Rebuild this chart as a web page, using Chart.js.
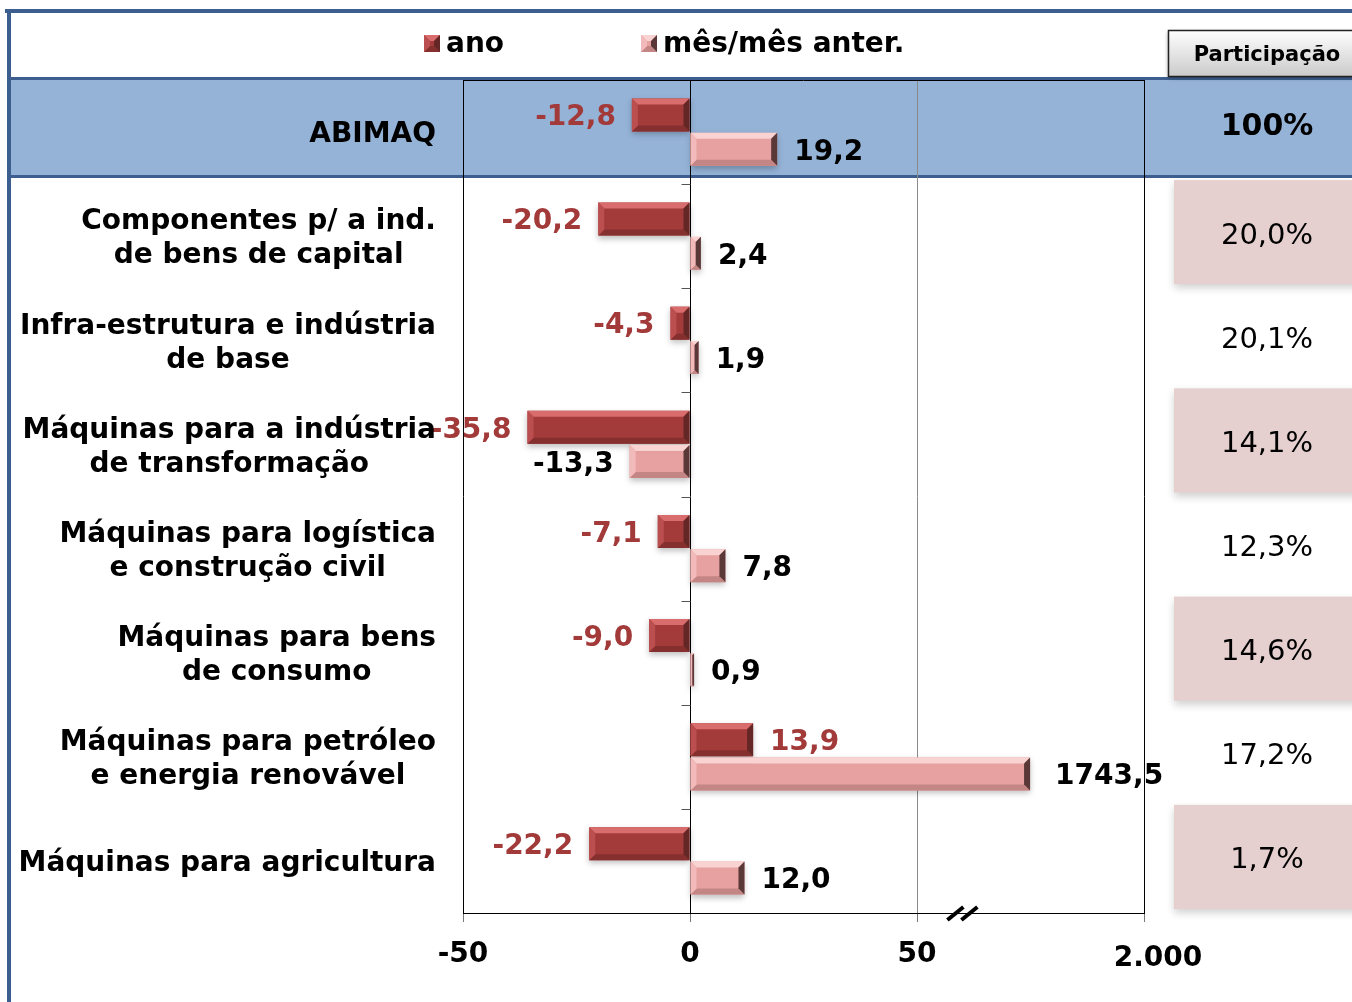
<!DOCTYPE html>
<html>
<head>
<meta charset="utf-8">
<script src="https://cdn.jsdelivr.net/npm/chart.js@4"></script>
<style>
  body { margin: 0; background: #fff; }
  #wrap { width: 1352px; height: 1002px; }
</style>
</head>
<body>
<div id="wrap"><canvas id="machines" width="1352" height="1002"></canvas></div>
<script>
// data
const categories = [
  'ABIMAQ',
  ['Componentes p/ a ind.', 'de bens de capital'],
  ['Infra-estrutura e indústria', 'de base'],
  ['Máquinas para a indústria', 'de transformação'],
  ['Máquinas para logística', 'e construção civil'],
  ['Máquinas para bens', 'de consumo'],
  ['Máquinas para petróleo', 'e energia renovável'],
  'Máquinas para agricultura'
];
const anoValues = [-12.8, -20.2, -4.3, -35.8, -7.1, -9.0, 13.9, -22.2];
const mesValues = [19.2, 2.4, 1.9, -13.3, 7.8, 0.9, 1743.5, 12.0];
const shares = ['100%', '20,0%', '20,1%', '14,1%', '12,3%', '14,6%', '17,2%', '1,7%'];
const xTicks = [-50, 0, 50, 100];
const xTickLabels = ['-50', '0', '50', '2.000'];

// broken axis: above 50 the scale is squeezed
const axisBreak = 50;
const breakRatio = 68;
function toAxis(v) {
  return v > axisBreak ? axisBreak + (v - axisBreak) / breakRatio : v;
}
function fmt(v) {
  return v.toFixed(1).replace('.', ',');
}

const FONT = 'DejaVu Sans';
const anoColors = { base: '#a33b3b', top: '#d96c6c', left: '#bb4f4f', bottom: '#862f2f', right: '#652626' };
const mesColors = { base: '#e8a1a1', top: '#f9d2d2', left: '#f2baba', bottom: '#c48585', right: '#5a3838' };

function poly(ctx, color, pts) {
  ctx.fillStyle = color;
  ctx.beginPath();
  ctx.moveTo(pts[0][0], pts[0][1]);
  for (let i = 1; i < pts.length; i++) ctx.lineTo(pts[i][0], pts[i][1]);
  ctx.closePath();
  ctx.fill();
}
function bevel(ctx, l, t, r, b, c) {
  const s = Math.min(6, (r - l) / 2, (b - t) / 2);
  poly(ctx, c.top, [[l, t], [r, t], [r - s, t + s], [l + s, t + s]]);
  poly(ctx, c.bottom, [[l, b], [r, b], [r - s, b - s], [l + s, b - s]]);
  poly(ctx, c.left, [[l, t], [l + s, t + s], [l + s, b - s], [l, b]]);
  poly(ctx, c.right, [[r, t], [r - s, t + s], [r - s, b - s], [r, b]]);
}

const decor = {
  id: 'decor',
  beforeDraw(chart) {
    const ctx = chart.ctx;
    const y = chart.scales.y;
    const rowH = y.getPixelForValue(1) - y.getPixelForValue(0);
    ctx.save();
    ctx.fillStyle = '#fff';
    ctx.fillRect(0, 0, chart.width, chart.height);
    // outer frame
    ctx.fillStyle = '#3d5f8f';
    ctx.fillRect(5, 9, chart.width - 5, 4);
    ctx.fillRect(7, 9, 4, chart.height - 9);
    // ABIMAQ band
    ctx.fillStyle = '#95b3d7';
    ctx.fillRect(11, 78, chart.width - 11, 98);
    ctx.fillStyle = '#3d5f8f';
    ctx.fillRect(11, 77, chart.width - 11, 3);
    ctx.fillRect(11, 175, chart.width - 11, 3);
    // participação boxes
    ctx.shadowColor = 'rgba(0,0,0,0.18)';
    ctx.shadowBlur = 8;
    ctx.shadowOffsetY = 4;
    ctx.fillStyle = '#e6cfcf';
    [1, 3, 5, 7].forEach(i => {
      const cy = y.getPixelForValue(i);
      ctx.fillRect(1174, cy - rowH / 2 - 4, 200, rowH);
    });
    // button
    ctx.shadowColor = 'rgba(0,0,0,0.35)';
    ctx.shadowBlur = 4;
    ctx.shadowOffsetY = 2;
    const g = ctx.createLinearGradient(0, 30, 0, 76);
    g.addColorStop(0, '#ffffff');
    g.addColorStop(1, '#cbcbcb');
    ctx.fillStyle = g;
    ctx.fillRect(1168, 30, 200, 46);
    ctx.shadowColor = 'transparent';
    ctx.strokeStyle = '#222';
    ctx.lineWidth = 1.5;
    ctx.strokeRect(1168.5, 30.5, 200, 46);
    ctx.fillStyle = '#000';
    ctx.font = 'bold 21px ' + FONT;
    ctx.textAlign = 'center';
    ctx.textBaseline = 'middle';
    ctx.fillText('Participação', 1267, 56);
    ctx.restore();
  },
  beforeDatasetsDraw(chart) {
    const ctx = chart.ctx;
    ctx.save();
    ctx.shadowColor = 'rgba(0,0,0,0.25)';
    ctx.shadowBlur = 6;
    ctx.shadowOffsetY = 3;
  },
  afterDatasetsDraw(chart) {
    const ctx = chart.ctx;
    ctx.restore();
    ctx.save();
    const sets = [
      { values: anoValues, colors: anoColors, label: '#a33a3a' },
      { values: mesValues, colors: mesColors, label: '#000' }
    ];
    sets.forEach((s, di) => {
      chart.getDatasetMeta(di).data.forEach((bar, i) => {
        const p = bar.getProps(['x', 'y', 'base', 'height'], true);
        const l = Math.min(p.x, p.base), r = Math.max(p.x, p.base);
        const t = p.y - p.height / 2, b = p.y + p.height / 2;
        bevel(ctx, l, t, r, b, s.colors);
        const v = s.values[i];
        ctx.font = 'bold 28px ' + FONT;
        ctx.fillStyle = s.label;
        ctx.textBaseline = 'middle';
        if (v < 0) {
          ctx.textAlign = 'right';
          ctx.fillText(fmt(v), l - 16, p.y + 3);
        } else {
          ctx.textAlign = 'left';
          ctx.fillText(fmt(v), r + (v > axisBreak ? 25 : 17), p.y + 3);
        }
      });
    });
    ctx.restore();
  },
  afterDraw(chart) {
    const ctx = chart.ctx;
    const x = chart.scales.x;
    const y = chart.scales.y;
    const area = chart.chartArea;
    const rowH = y.getPixelForValue(1) - y.getPixelForValue(0);
    ctx.save();
    // top border of plot
    ctx.strokeStyle = '#000';
    ctx.lineWidth = 1;
    ctx.beginPath();
    ctx.moveTo(area.left, area.top + 0.5);
    ctx.lineTo(area.right, area.top + 0.5);
    ctx.stroke();
    // category ticks on zero axis
    const zx = Math.round(x.getPixelForValue(0)) + 0.5;
    ctx.strokeStyle = '#555';
    for (let k = 1; k < categories.length; k++) {
      const ty = Math.round(area.top + k * rowH) + 0.5;
      ctx.beginPath();
      ctx.moveTo(zx - 9, ty);
      ctx.lineTo(zx, ty);
      ctx.stroke();
    }
    // axis break mark
    const bx = x.getPixelForValue(60);
    ctx.strokeStyle = '#000';
    ctx.lineWidth = 4;
    [-7, 7].forEach(d => {
      ctx.beginPath();
      ctx.moveTo(bx + d - 8, area.bottom + 7);
      ctx.lineTo(bx + d + 8, area.bottom - 6);
      ctx.stroke();
    });
    // last tick label sits a little right and low of its tick
    ctx.fillStyle = '#000';
    ctx.font = 'bold 28px ' + FONT;
    ctx.textAlign = 'center';
    ctx.textBaseline = 'middle';
    ctx.fillText(xTickLabels[3], x.getPixelForValue(xTicks[3]) + 14, area.bottom + 46);
    // category labels
    categories.forEach((c, i) => {
      const lines = Array.isArray(c) ? c : [c];
      const w = Math.max(...lines.map(s => ctx.measureText(s).width));
      const cx = 436 - w / 2;
      const cy = y.getPixelForValue(i) + 3;
      lines.forEach((s, j) => {
        ctx.fillText(s, cx, cy + (j - (lines.length - 1) / 2) * 34);
      });
    });
    // participação values
    shares.forEach((s, i) => {
      ctx.font = (i === 0 ? 'bold 30px ' : '29px ') + FONT;
      ctx.fillText(s, 1267, y.getPixelForValue(i) + (i === 0 ? -5 : 0));
    });
    // legend
    const legend = [
      { text: 'ano', x: 424, colors: anoColors },
      { text: 'mês/mês anter.', x: 641, colors: mesColors }
    ];
    legend.forEach(it => {
      ctx.fillStyle = it.colors.base;
      ctx.fillRect(it.x, 35, 16, 17);
      bevel(ctx, it.x, 35, it.x + 16, 52, it.colors);
      ctx.fillStyle = '#000';
      ctx.font = 'bold 28px ' + FONT;
      ctx.textAlign = 'left';
      ctx.fillText(it.text, it.x + 22, 45);
    });
    ctx.restore();
  }
};

new Chart(document.getElementById('machines'), {
  type: 'bar',
  data: {
    labels: categories,
    datasets: [
      { label: 'ano', data: anoValues.map(toAxis), backgroundColor: anoColors.base },
      { label: 'mês/mês anter.', data: mesValues.map(toAxis), backgroundColor: mesColors.base }
    ]
  },
  options: {
    indexAxis: 'y',
    responsive: false,
    animation: false,
    categoryPercentage: 0.66,
    barPercentage: 0.96,
    layout: { padding: { left: 463, right: 208, top: 80, bottom: 0 } },
    plugins: { legend: { display: false }, tooltip: { enabled: false } },
    scales: {
      x: {
        min: -50,
        max: 100,
        afterFit(scale) { scale.height = 89; },
        ticks: {
          stepSize: 50,
          padding: 16,
          color: '#000',
          font: { family: FONT, size: 28, weight: 'bold' },
          callback: v => (v === xTicks[3] ? '' : xTickLabels[xTicks.indexOf(v)] ?? '')
        },
        grid: {
          color: c => (c.tick && c.tick.value === 50 ? '#8a8a8a' : '#000'),
          tickColor: '#777',
          tickLength: 9
        },
        border: { color: '#000' }
      },
      y: { display: false }
    }
  },
  plugins: [decor]
});
</script>
</body>
</html>
